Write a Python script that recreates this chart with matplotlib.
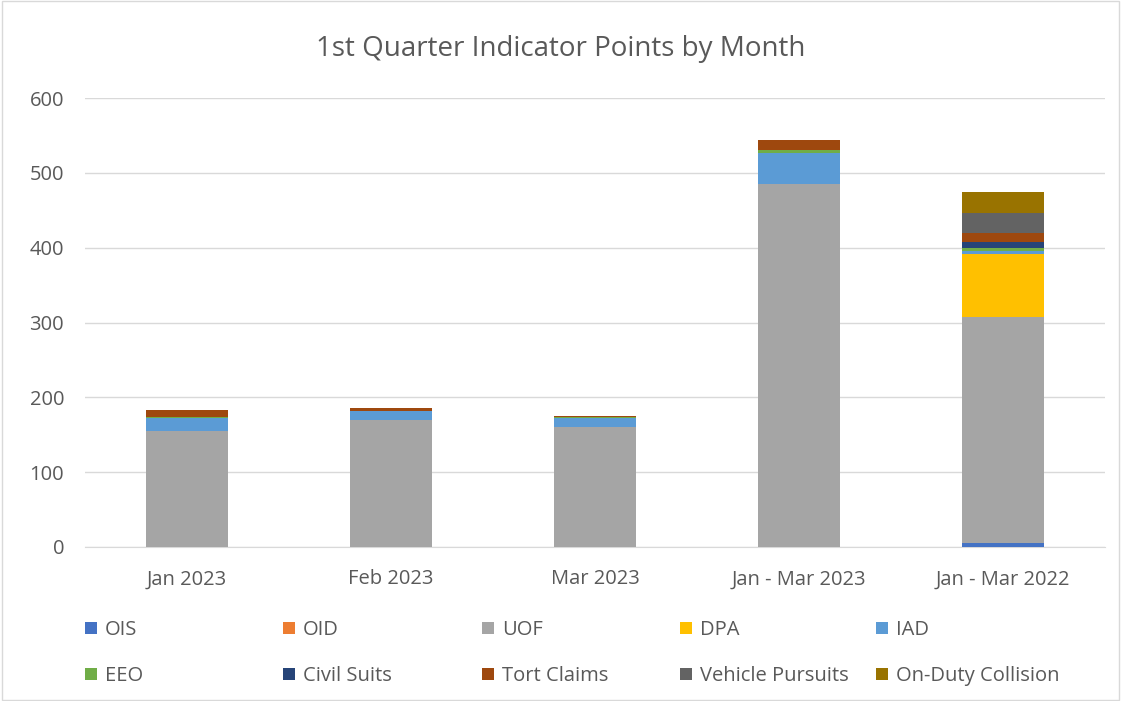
import numpy as np
import matplotlib.pyplot as plt
from matplotlib.patches import Rectangle

# ===== Dados =====
categories = ["Jan 2023", "Feb 2023", "Mar 2023", "Jan - Mar 2023", "Jan - Mar 2022"]
series_names = ["OIS", "OID", "UOF", "DPA", "IAD",
                "EEO", "Civil Suits", "Tort Claims", "Vehicle Pursuits", "On-Duty Collision"]
ois      = [0, 0, 0, 0, 5]
oid      = [0, 0, 0, 0, 0]
uof      = [155, 170, 160, 485, 302]
dpa      = [0, 0, 0, 0, 84]
iad      = [18, 12, 12, 42, 5]
eeo      = [1, 0, 2, 3, 3]
civil    = [0, 0, 0, 0, 8]
tort     = [9, 4, 1, 14, 12]
vehicle  = [0, 0, 0, 0, 27]
collision = [0, 0, 0, 0, 28]
values = [ois, oid, uof, dpa, iad, eeo, civil, tort, vehicle, collision]
colors = ["#4472C4", "#ED7D31", "#A5A5A5", "#FFC000", "#5B9BD5",
          "#70AD47", "#264478", "#9E480E", "#636363", "#997300"]

plt.rcParams["font.family"] = ["Open Sans", "DejaVu Sans"]
TXT = "#595959"

fig = plt.figure(figsize=(11.21, 7.01), dpi=100)
ax = fig.add_axes([85/1121, 1 - 547/701, 1020/1121, 449/701])

x = np.arange(len(categories))
bottom = np.zeros(len(categories))
handles = []
for name, vals, c in zip(series_names, values, colors):
    b = ax.bar(x, vals, 0.4, bottom=bottom, color=c, label=name, zorder=3)
    bottom += np.array(vals)
    handles.append(b)

ax.set_xlim(-0.5, 4.5)
ax.set_ylim(0, 600)
ax.set_yticks(range(0, 601, 100))
ax.set_xticks(x)
ax.set_xticklabels(categories)
ax.tick_params(length=0, labelsize=14.5, colors=TXT)
ax.tick_params(axis="x", pad=16)
ax.tick_params(axis="y", pad=15)
ax.grid(axis="y", color="#D9D9D9", linewidth=1, zorder=0)
for s in ["top", "right", "left"]:
    ax.spines[s].set_visible(False)
ax.spines["bottom"].set_color("#D9D9D9")

fig.text(0.5, 1 - 49/701, "1st Quarter Indicator Points by Month",
         ha="center", va="center", fontsize=20, color=TXT)

# legenda em 5 colunas de largura igual
col_x = [85, 283, 482, 680, 876]
for i, cx in enumerate(col_x):
    leg = fig.legend([handles[i], handles[i + 5]], [series_names[i], series_names[i + 5]],
                     loc="upper left", bbox_to_anchor=(cx/1121, 1 - 620/701),
                     frameon=False, fontsize=14.5, handlelength=0.6, handleheight=0.6,
                     handletextpad=0.4, labelspacing=1.3, borderaxespad=0, borderpad=0)
    for t in leg.get_texts():
        t.set_color(TXT)

fig.add_artist(Rectangle((0.002, 0.002), 0.996, 0.996, transform=fig.transFigure,
                         fill=False, edgecolor="#D9D9D9", linewidth=1))

fig.savefig("out.png", dpi=100)
